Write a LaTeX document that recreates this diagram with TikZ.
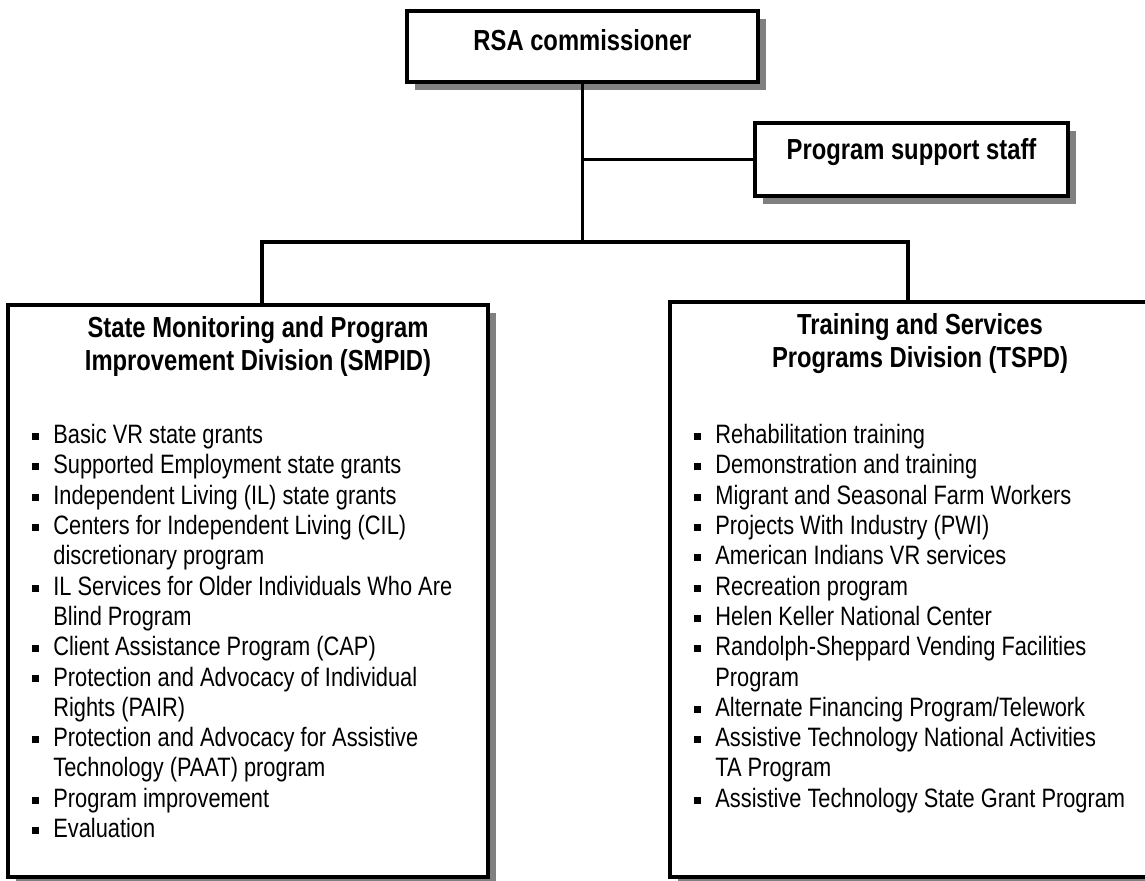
\documentclass[tikz,border=0pt]{standalone}
\usepackage{fontspec}
\setmainfont[FakeStretch=0.82]{Liberation Sans}
\usetikzlibrary{positioning,calc,shadows}
\newcommand{\itm}{\strut\makebox[10.75pt][l]{\raisebox{1.8pt}{\rule{3.5pt}{3.5pt}}}}
\newcommand{\cnt}{\strut\hspace*{10.75pt}}

\begin{document}
\begin{tikzpicture}[x=0.5pt,y=-0.5pt,
  orgbox/.style={draw,line width=1.8pt,fill=white,inner sep=0pt,
    drop shadow={shadow xshift=4pt,shadow yshift=-4pt,opacity=1,fill=black!50}},
  head/.style={font=\fontsize{14.5}{16.5}\selectfont\bfseries,align=center,inner sep=0pt},
  items/.style={font=\fontsize{13.3}{15.15}\selectfont,align=left,inner sep=0pt},
  link/.style={line width=1.8pt}]
\useasboundingbox (0,0) rectangle (1145,880);
\node[orgbox,head,minimum width=175.5pt,minimum height=35.5pt,text depth=7pt] (rsa) at (582.5,46.5) {RSA commissioner};
\node[orgbox,head,minimum width=156.5pt,minimum height=36.5pt,text depth=10.5pt] (pss) at (911.5,159.5) {Program support staff};
\node[orgbox,minimum width=240pt,minimum height=286pt] (smpid) at (248,591) {};
\node[orgbox,minimum width=241pt,minimum height=287.5pt] (tspd) at (911,589.5) {};
% headings and lists
\node[head,anchor=north] (smpidh) at ($(smpid.north)+(10,13)$) {State Monitoring and Program\\Improvement Division (SMPID)};
\node[head,anchor=north] (tspdh) at ($(tspd.north)+(9,13)$) {Training and Services\\Programs Division (TSPD)};
\node[items,anchor=north west] (smpidl) at (31.5,422) {\itm Basic VR state grants\\
  \itm Supported Employment state grants\\
  \itm Independent Living (IL) state grants\\
  \itm Centers for Independent Living (CIL)\\
  \cnt discretionary program\\
  \itm IL Services for Older Individuals Who Are\\
  \cnt Blind Program\\
  \itm Client Assistance Program (CAP)\\
  \itm Protection and Advocacy of Individual\\
  \cnt Rights (PAIR)\\
  \itm Protection and Advocacy for Assistive\\
  \cnt Technology (PAAT) program\\
  \itm Program improvement\\
  \itm Evaluation};
\node[items,anchor=north west] (tspdl) at (693.5,422) {\itm Rehabilitation training\\
  \itm Demonstration and training\\
  \itm Migrant and Seasonal Farm Workers\\
  \itm Projects With Industry (PWI)\\
  \itm American Indians VR services\\
  \itm Recreation program\\
  \itm Helen Keller National Center\\
  \itm Randolph-Sheppard Vending Facilities\\
  \cnt Program\\
  \itm Alternate Financing Program/Telework\\
  \itm Assistive Technology National Activities\\
  \cnt TA Program\\
  \itm Assistive Technology State Grant Program};
% connectors
\coordinate (busL) at (262,242);
\coordinate (busR) at (908,242);
\draw[link] (rsa.south) -- (rsa.south |- busL);
\draw[link] (rsa.south |- pss.west) -- (pss.west);
\draw[link] (busL |- smpid.north) -- (busL) -- (busR) -- (busR |- tspd.north);
\end{tikzpicture}
\end{document}
